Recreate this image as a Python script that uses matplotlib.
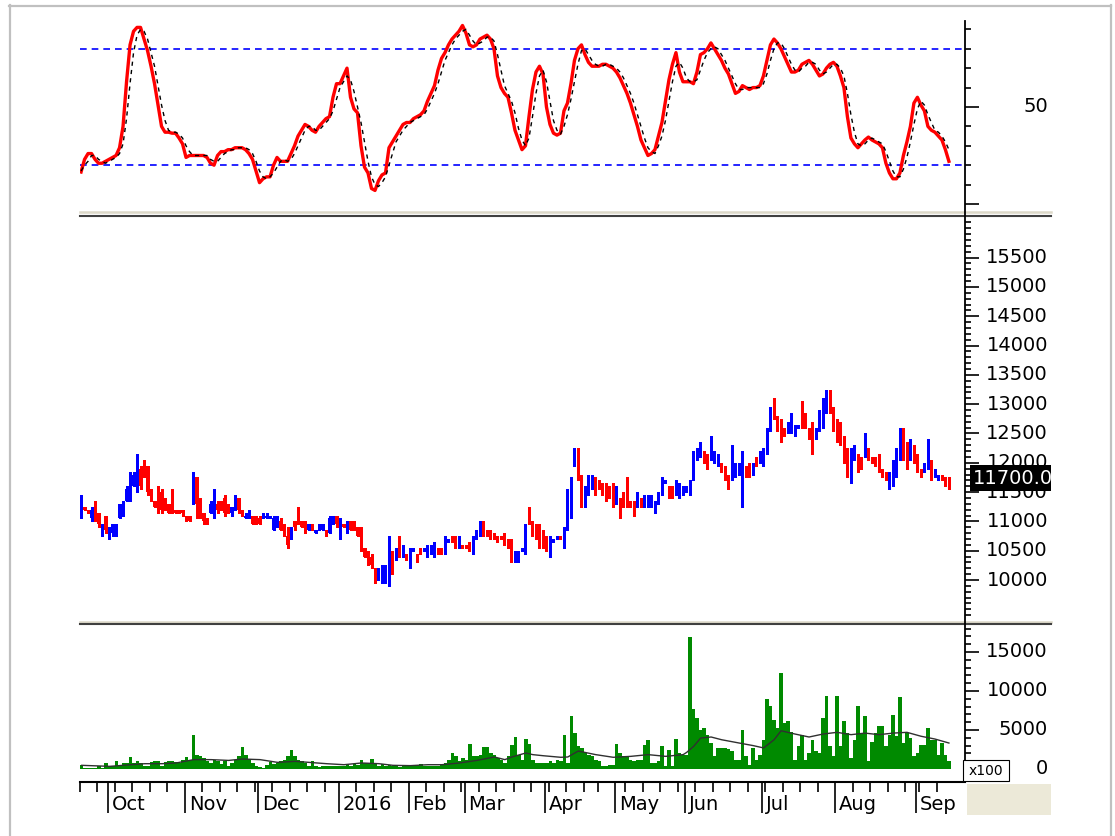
import numpy as np
import pandas as pd
import matplotlib
matplotlib.use("Agg")
import matplotlib.pyplot as plt
import matplotlib.transforms as mtransforms
from matplotlib.lines import Line2D
from matplotlib.patches import Rectangle
from matplotlib.ticker import FixedLocator

# ---- data ----
holidays = ['2016-01-01', '2016-02-08', '2016-02-09', '2016-02-10', '2016-02-11',
            '2016-02-12', '2016-04-18', '2016-05-02', '2016-05-03', '2016-09-02']
month_labels = ['Oct', 'Nov', 'Dec', '2016', 'Feb', 'Mar', 'Apr', 'May', 'Jun', 'Jul', 'Aug', 'Sep']

opens = [
    11300, 11250, 11200, 11050, 11350, 11150, 10750, 11100,
    10750, 10800, 10800, 11050, 11100, 11350, 11350, 11600, 11550, 11900, 12000, 11950, 11550, 11350, 11600, 11500, 11400, 11300, 11500, 11200, 11200, 11200,
    11100, 11100, 11450, 11750, 11400, 11150, 11050, 11150, 11100, 11300, 11350, 11400, 11300, 11150, 11200, 11400, 11200, 11050, 11100, 11100, 11100,
    11050, 11050, 11050, 11050, 10850, 10900, 11000, 10950, 10750, 10700, 11000, 11150, 11000, 10950, 10850, 10950, 10800, 10850, 10850, 10850, 10800, 10950, 11100,
    10750, 10950, 10850, 11000, 10950, 10900, 10850, 10550, 10500, 10400, 10200, 10000, 9950, 10000, 9950, 10450, 10350, 10700, 10400, 10450,
    10200, 10500, 10450, 10550, 10500, 10450, 10450, 10450, 10550, 10550, 10450, 10650, 10700, 10700, 10550, 10600,
    10600, 10650, 10450, 10700, 10750, 11000, 10850, 10850, 10800, 10750, 10750, 10750, 10700, 10650, 10300, 10300, 10500, 10500, 11200, 11000, 10950, 10900, 10800,
    10700, 10450, 10650, 10700, 10750, 10600, 10850, 11100, 12050, 12200, 11750, 11300, 11500, 11600, 11750, 11700, 11650, 11600, 11550, 11550,
    11300, 11400, 11450, 11350, 11350, 11300, 11250, 11350, 11250, 11300, 11250, 11200, 11300, 11450, 11650, 11600, 11550, 11450, 11450, 11450,
    11500, 11500, 11700, 12050, 12100, 12200, 12100, 12050, 12000, 11950, 12000, 11950, 11750, 11750, 11800, 11800, 11850, 11950, 11950, 11800, 12100, 12000,
    11950, 12150, 12550, 13100, 12750, 12700, 12600, 12500, 12500, 12450, 12600, 12700, 12800, 12600, 12650, 12400, 12550, 12650, 12850, 13200, 12900,
    12700, 12600, 12400, 12200, 11750, 12050, 12100, 12100, 12100, 12250, 12100, 12100, 12100, 11900, 11850, 11550, 11650, 11800, 12100, 12500, 12300, 12050, 12250,
    12100, 11900, 11850, 11950, 12000, 11750, 11700, 11750, 11750, 11750,
]
highs = [
    11450, 11250, 11200, 11250, 11350, 11150, 10950, 11100,
    10900, 10950, 10950, 11300, 11350, 11600, 11850, 11850, 12150, 11950, 12050, 11950, 11550, 11350, 11600, 11550, 11400, 11300, 11550, 11200, 11200, 11200,
    11100, 11100, 11850, 11750, 11400, 11150, 11050, 11350, 11550, 11350, 11350, 11450, 11300, 11250, 11450, 11400, 11200, 11150, 11200, 11100, 11100,
    11100, 11150, 11150, 11100, 11100, 11100, 11050, 10950, 10900, 10900, 11000, 11250, 11000, 11000, 10950, 10950, 10850, 10950, 10950, 10850, 11100, 11100, 11100,
    11050, 10950, 11000, 11000, 11000, 10900, 10900, 10550, 10500, 10450, 10200, 10200, 10250, 10250, 10750, 10500, 10550, 10750, 10600, 10450,
    10550, 10550, 10450, 10550, 10550, 10600, 10600, 10650, 10550, 10550, 10750, 10700, 10750, 10750, 10750, 10600,
    10600, 10650, 10750, 10850, 11000, 11000, 10850, 10850, 10800, 10750, 10750, 10800, 10700, 10700, 10500, 10500, 10550, 10950, 11250, 11000, 10950, 10950, 10850,
    10750, 10750, 10700, 10750, 10750, 10900, 11550, 11750, 12250, 12250, 11800, 11600, 11800, 11800, 11750, 11700, 11650, 11650, 11600, 11650,
    11600, 11400, 11500, 11750, 11350, 11350, 11500, 11400, 11450, 11450, 11450, 11350, 11500, 11750, 11700, 11600, 11600, 11700, 11650, 11600,
    11600, 11700, 12200, 12250, 12350, 12200, 12150, 12450, 12200, 12150, 12000, 11950, 11800, 12300, 12000, 12000, 12200, 11950, 12000, 12000, 12100, 12200,
    12250, 12600, 12950, 13100, 12800, 12750, 12600, 12700, 12850, 12650, 12650, 13050, 12850, 12600, 12700, 12600, 12900, 13100, 13250, 13250, 12950,
    12750, 12700, 12450, 12250, 12250, 12300, 12150, 12100, 12500, 12250, 12100, 12100, 12150, 11900, 11850, 11850, 12050, 12250, 12600, 12600, 12350, 12400, 12300,
    12150, 11900, 12000, 12400, 12050, 11900, 11800, 11800, 11750, 11750,
]
lows = [
    11050, 11200, 11150, 11000, 11000, 10900, 10750, 10800,
    10700, 10750, 10750, 11050, 11100, 11350, 11350, 11600, 11500, 11550, 11750, 11450, 11350, 11250, 11150, 11150, 11200, 11150, 11150, 11150, 11150, 11100,
    11000, 11000, 11300, 11050, 11050, 10950, 10950, 11150, 11050, 11150, 11200, 11100, 11150, 11100, 11200, 11150, 11100, 11050, 11050, 10950, 10950,
    10950, 11050, 11050, 11050, 10850, 10900, 10850, 10750, 10550, 10700, 10850, 10950, 10900, 10800, 10850, 10850, 10800, 10850, 10850, 10750, 10800, 10950, 10900,
    10700, 10900, 10800, 10850, 10850, 10750, 10500, 10400, 10250, 10200, 9950, 10000, 9950, 9950, 9900, 10100, 10350, 10400, 10400, 10350,
    10200, 10500, 10300, 10450, 10500, 10400, 10450, 10400, 10450, 10450, 10450, 10650, 10650, 10550, 10550, 10550,
    10550, 10500, 10450, 10700, 10750, 10750, 10750, 10700, 10700, 10650, 10700, 10600, 10550, 10300, 10300, 10300, 10500, 10450, 10950, 10750, 10700, 10550, 10550,
    10500, 10400, 10650, 10700, 10700, 10550, 10850, 11050, 11950, 11700, 11250, 11250, 11450, 11550, 11450, 11550, 11450, 11350, 11400, 11250,
    11300, 11050, 11250, 11250, 11250, 11100, 11250, 11250, 11250, 11250, 11250, 11150, 11300, 11450, 11650, 11400, 11400, 11450, 11400, 11450,
    11500, 11450, 11700, 12050, 12100, 12000, 11900, 12050, 12000, 11950, 11850, 11700, 11550, 11700, 11750, 11800, 11250, 11750, 11750, 11800, 11950, 12000,
    11950, 12150, 12550, 12750, 12550, 12350, 12450, 12500, 12500, 12450, 12600, 12600, 12600, 12400, 12150, 12400, 12550, 12600, 12850, 12850, 12550,
    12350, 12300, 12000, 11750, 11650, 12050, 11850, 11900, 12100, 12050, 12000, 11950, 11850, 11750, 11700, 11550, 11600, 11750, 12050, 12050, 11900, 12050, 12000,
    11850, 11750, 11850, 11900, 11700, 11750, 11700, 11700, 11600, 11550,
]
closes = [
    11400, 11200, 11150, 11200, 11100, 10950, 10950, 10850,
    10900, 10950, 10900, 11300, 11300, 11550, 11800, 11800, 12100, 11600, 11800, 11500, 11350, 11250, 11200, 11200, 11200, 11150, 11200, 11150, 11150, 11150,
    11050, 11000, 11550, 11300, 11100, 11000, 10950, 11300, 11300, 11200, 11200, 11150, 11150, 11250, 11350, 11200, 11150, 11100, 11150, 10950, 11000,
    10950, 11150, 11100, 11100, 11050, 11050, 10850, 10800, 10600, 10850, 10900, 11000, 10900, 10850, 10950, 10850, 10850, 10950, 10950, 10750, 11050, 11100, 10950,
    11000, 10900, 10950, 10850, 10850, 10750, 10550, 10400, 10300, 10250, 9950, 10150, 10200, 10200, 10650, 10100, 10500, 10450, 10600, 10350,
    10550, 10550, 10350, 10450, 10550, 10550, 10600, 10600, 10450, 10500, 10700, 10700, 10650, 10600, 10700, 10550,
    10550, 10500, 10700, 10850, 11000, 10800, 10750, 10700, 10700, 10650, 10700, 10650, 10550, 10350, 10500, 10450, 10550, 10900, 10950, 10800, 10750, 10600, 10600,
    10550, 10700, 10700, 10750, 10700, 10850, 11500, 11700, 12150, 11800, 11350, 11550, 11750, 11750, 11500, 11550, 11500, 11400, 11450, 11300,
    11550, 11100, 11300, 11300, 11250, 11150, 11450, 11250, 11400, 11400, 11400, 11350, 11500, 11700, 11700, 11450, 11400, 11650, 11600, 11550,
    11550, 11700, 12150, 12200, 12300, 12050, 11950, 12250, 12150, 12100, 11850, 11750, 11600, 11950, 11950, 11950, 12000, 11800, 11800, 11950, 11950, 12200,
    12200, 12550, 12900, 12800, 12600, 12450, 12450, 12650, 12600, 12650, 12650, 12650, 12650, 12450, 12500, 12550, 12850, 13000, 13200, 12900, 12650,
    12400, 12350, 12050, 11800, 12000, 12250, 11900, 11950, 12350, 12100, 12000, 11950, 11900, 11800, 11700, 11800, 12000, 12200, 12450, 12100, 11950, 12300, 12050,
    11900, 11800, 11950, 12000, 11750, 11850, 11800, 11700, 11650, 11700,
]
volume = [  # x100
    470, 130, 130, 130, 130, 340, 130, 770,
    340, 340, 980, 340, 770, 770, 1500, 770, 1070, 770, 340, 430, 850, 980, 980, 340, 850, 980, 980, 850, 770, 1200,
    1540, 1200, 4400, 1840, 1700, 1400, 980, 770, 1200, 980, 680, 980, 430, 770, 1200, 1620, 2820, 1840, 1280, 770, 340,
    260, 130, 550, 850, 680, 770, 980, 1200, 1620, 2400, 1620, 1200, 980, 770, 340, 980, 340, 260, 340, 430, 430, 340, 430,
    340, 430, 680, 430, 680, 550, 1200, 770, 770, 1280, 770, 340, 680, 430, 550, 340, 340, 260, 340, 340,
    430, 340, 550, 680, 430, 340, 340, 430, 340, 680, 770, 1200, 2050, 1620, 980, 1400,
    1200, 3200, 1620, 1620, 1840, 2820, 2820, 2050, 1840, 1400, 1200, 770, 1620, 3100, 4100, 1840, 1200, 3900, 3250, 1200, 770, 770, 770,
    770, 980, 770, 1200, 980, 4300, 770, 6750, 4600, 3000, 2700, 2050, 1840, 1620, 1200, 980, 430, 430, 550, 550,
    3200, 2050, 1620, 1620, 1200, 980, 1200, 1200, 3100, 3670, 770, 770, 980, 3000, 430, 2400, 340, 3900, 2050, 1840,
    1840, 16900, 7700, 6500, 5000, 5250, 4400, 3300, 1620, 2700, 2700, 2700, 2500, 2260, 1200, 1200, 5000, 1620, 550, 2700, 1200, 1840,
    3670, 9000, 8030, 6300, 5250, 12300, 5900, 6100, 4800, 1200, 2900, 4400, 1200, 2050, 3750, 2260, 2050, 6500, 9400, 2900, 1620,
    9400, 2900, 6100, 4600, 1400, 3750, 8100, 4600, 6750, 980, 3500, 4600, 5550, 5550, 2900, 4400, 6950, 4200, 9200, 3300, 4600, 4000, 1620,
    2050, 3100, 3100, 5250, 3750, 3750, 1840, 3300, 1840, 980,
]
# volume average line, read at a few days
ma_days = [0, 8, 18, 23, 27, 32, 37, 42, 46, 51, 56, 61, 65, 70, 75, 80, 85, 89, 94, 99,
           103, 108, 113, 118, 121, 123, 127, 129, 132, 137, 139, 142, 147, 152, 157, 162,
           167, 172, 173, 175, 177, 180, 183, 188, 192, 195, 198, 200, 204, 208, 212, 216,
           220, 224, 228, 232, 236, 240, 244, 248]
ma_vol = [470, 340, 680, 680, 770, 1200, 1200, 1100, 1280, 1200, 850, 980, 850, 680, 550, 770,
          680, 470, 430, 550, 550, 770, 1100, 1540, 1200, 1540, 2050, 1840, 1700, 1500, 1540,
          2300, 1840, 1500, 1620, 1840, 1620, 1840, 2130, 2900, 3970, 4100, 3750, 3330, 3000,
          2700, 3750, 4900, 4480, 4100, 4480, 4700, 4400, 4600, 4400, 4600, 4700, 4200, 3840, 3330]
stoch_k = [
    16.5, 23, 26, 26, 23, 21, 21, 22,
    23, 24, 25, 29, 40, 63, 82, 89, 91, 91, 85, 79, 71, 62, 51, 40, 37, 37, 36.5, 36.5, 34, 31,
    24, 25, 25, 25, 25, 25, 24, 21, 20, 25, 27, 27, 28, 28, 29, 29, 29, 28, 26, 23, 17,
    11, 13, 14, 14, 20, 24, 22, 22, 22, 26, 30, 35, 38, 41, 40, 38, 37, 40, 42, 44, 45, 55, 62,
    62, 66, 70, 55, 49, 47, 30, 19, 16, 8, 7, 12, 15, 16, 29, 32, 35, 38, 41, 42,
    42, 44, 45, 46, 48, 53, 57, 61, 69, 75, 78, 82, 85, 87, 89, 92,
    88, 82, 81, 82, 85, 86, 87, 85, 80, 66, 60, 57, 55, 47, 38, 33, 28, 30, 45, 59, 68, 71, 67,
    50, 41, 36.5, 35.5, 36.5, 48, 52, 62, 74, 80, 82, 77, 73, 71, 71, 71, 72, 72, 71, 70,
    68, 65, 61, 57, 52, 46, 40, 33, 29, 25, 26, 28, 35, 42, 53, 64, 72, 78, 68, 63,
    63, 63, 62, 68, 77, 78, 80, 83, 80, 77, 74, 70, 67, 62, 57, 58, 61, 60, 59, 60, 60, 61,
    66, 74, 82, 85, 83, 80, 76, 72, 68, 68, 69, 72, 73, 74, 72, 69, 66, 67, 70, 72, 73,
    71, 66, 60, 45, 34, 31, 29, 31, 33, 34.5, 33, 32, 31, 29, 21, 16, 13, 13, 16, 25, 32, 40, 52,
    55, 51, 48, 40, 38, 37, 35, 33, 28, 22,
]
stoch_d = [
    17, 20, 22, 25, 25, 23, 22, 21,
    22, 23, 24, 26, 31, 44, 62, 78, 87, 90, 89, 85, 78, 71, 61, 51, 43, 38, 37, 37, 36, 34,
    30, 27, 25, 25, 25, 25, 25, 23, 22, 22, 24, 26, 27, 28, 28, 29, 29, 29, 28, 26, 22,
    17, 14, 13, 14, 16, 19, 22, 23, 22, 23, 26, 30, 34, 38, 40, 40, 38, 38, 40, 42, 44, 48, 54,
    60, 63, 66, 64, 58, 50, 42, 32, 22, 14, 10, 9, 11, 14, 20, 26, 32, 35, 38, 40,
    42, 43, 44, 45, 46, 49, 53, 57, 62, 68, 74, 78, 82, 85, 87, 89,
    90, 87, 84, 82, 83, 84, 86, 86, 84, 77, 69, 61, 57, 53, 47, 39, 33, 30, 34, 45, 57, 66, 69,
    63, 53, 43, 38, 36, 40, 46, 54, 63, 72, 79, 80, 77, 74, 72, 71, 71, 72, 72, 71,
    70, 68, 65, 61, 57, 52, 46, 40, 34, 29, 27, 26, 30, 35, 43, 53, 63, 71, 73, 70,
    65, 63, 63, 64, 69, 74, 78, 80, 81, 80, 77, 74, 70, 66, 62, 59, 59, 60, 60, 60, 60, 60,
    62, 67, 74, 80, 83, 83, 80, 76, 72, 69, 68, 70, 71, 73, 73, 72, 69, 67, 68, 70, 72,
    72, 70, 66, 57, 46, 37, 31, 30, 31, 33, 34, 33, 32, 31, 27, 22, 17, 14, 14, 18, 24, 32, 41,
    49, 53, 51, 46, 42, 38, 37, 35, 32, 28,
]
last_price = '11700.00'

# ---- layout helpers (pixel coords of the 1115x836 picture) ----
W, H = 1115, 836
fig = plt.figure(figsize=(W / 100, H / 100), dpi=100)


def fx(px):
    return px / W


def fy(py):
    return 1 - py / H


def add_ax(y_top, y_bot):
    return fig.add_axes([fx(80), fy(y_bot), fx(965) - fx(80), (y_bot - y_top) / H])


opens, highs, lows, closes = map(np.array, (opens, highs, lows, closes))
n = len(closes)
x = np.arange(n)
dates = pd.bdate_range('2015-09-21', '2016-09-30', freq='C', holidays=holidays)[:n]
new_month = np.r_[False, dates.month[1:] != dates.month[:-1]]
new_week = np.r_[True, dates.weekday[1:] < dates.weekday[:-1]]
month_pos = x[new_month]
week_pos = x[new_week & ~new_month]

ax1 = add_ax(21, 211)
ax2 = add_ax(218, 620)
ax3 = add_ax(626, 782)
for ax in (ax1, ax2, ax3):
    ax.set_xlim(-0.3, 252.6)
    ax.yaxis.tick_right()
    ax.tick_params(axis='y', which='major', length=10, width=1.2, labelright=False)
    ax.tick_params(axis='y', which='minor', length=4.5, width=1.2)
    ax.tick_params(axis='x', which='both', bottom=False, labelbottom=False)
    for s in ax.spines.values():
        s.set_visible(False)

# stochastic panel
ax1.set_ylim(-3.6, 94.3)
ax1.axhline(80, color='#0000ff', lw=1.2, ls=(0, (4, 3)))
ax1.axhline(20, color='#0000ff', lw=1.2, ls=(0, (4, 3)))
ax1.plot(x, stoch_k, color='#ff0000', lw=2.4, zorder=3)
ax1.plot(x, stoch_d, color='black', lw=1.0, ls=(0, (3, 3)), zorder=4)
ax1.yaxis.set_major_locator(FixedLocator([0, 50]))
ax1.yaxis.set_minor_locator(FixedLocator([10, 20, 30, 40, 60, 70, 80, 90]))

# price panel: thin high-low line plus a thicker open-close body
ax2.set_ylim(9318, 16176)
up = closes >= opens
cols = np.where(up, '#0000ff', '#ff0000')
ax2.vlines(x, lows, highs, colors=cols, lw=1.0, antialiased=False)
ax2.bar(x, np.maximum(np.abs(closes - opens), 30), bottom=np.minimum(opens, closes),
        width=0.75, color=cols, linewidth=0, antialiased=False)
ax2.yaxis.set_major_locator(FixedLocator(np.arange(10000, 15501, 500)))
ax2.yaxis.set_minor_locator(FixedLocator(np.arange(9400, 16200, 100)))

# volume panel
ax3.set_ylim(-1667, 18330)
ax3.bar(x, volume, width=1.0, color='#008a00', linewidth=0, antialiased=False)
ax3.plot(ma_days, ma_vol, color='#303030', lw=1.0)
ax3.yaxis.set_major_locator(FixedLocator([0, 5000, 10000, 15000]))
ax3.yaxis.set_minor_locator(FixedLocator(np.arange(0, 18001, 1000)))
ax3.spines['bottom'].set_visible(True)
ax3.spines['bottom'].set_linewidth(1.5)
ax3.set_xticks(month_pos - 0.5)
ax3.set_xticks(week_pos - 0.5, minor=True)
ax3.tick_params(axis='x', which='major', bottom=True, length=22, width=1.2)
ax3.tick_params(axis='x', which='minor', bottom=True, length=7, width=1.2)

# axis labels drawn as text, right-aligned like the original
for ax, vals in ((ax1, [50]), (ax2, range(10000, 15501, 500)), (ax3, [0, 5000, 10000, 15000])):
    tr = mtransforms.blended_transform_factory(fig.transFigure, ax.transData)
    for v in vals:
        ax.text(fx(1048), v, str(v), transform=tr, ha='right', va='center',
                fontsize=14, clip_on=False)
trx = mtransforms.blended_transform_factory(ax3.transData, fig.transFigure)
for pos, lab in zip(month_pos, month_labels):
    ax3.text(pos - 0.5 + 1.1, fy(804), lab, transform=trx, ha='left', va='center',
             fontsize=14, clip_on=False)

# separators, right axis line, frame
def fline(x0, y0, x1, y1, **kw):
    fig.add_artist(Line2D([fx(x0), fx(x1)], [fy(y0), fy(y1)], transform=fig.transFigure, **kw))


for yl, yd in ((212, 216), (621.8, 624.2)):
    fline(80, yl, 1051, yl, color='#dcd8c8', lw=1.8, zorder=5)
    fline(80, yd, 1051, yd, color='#404040', lw=1.5, zorder=5)
fline(965, 21, 965, 782, color='black', lw=1.3, zorder=6)
fline(9, 5.5, 1111, 5.5, color='#c0c0c0', lw=1.6)
fline(9.5, 5, 9.5, 836, color='#c0c0c0', lw=1.6)
fline(1111, 5, 1111, 836, color='#c0c0c0', lw=1.6)

fig.add_artist(Rectangle((fx(967), fy(815)), fx(84), 31 / H, transform=fig.transFigure,
                         facecolor='#ece9d8', edgecolor='none', zorder=5))
fig.add_artist(Rectangle((fx(963), fy(781)), fx(46), 21 / H, transform=fig.transFigure,
                         facecolor='white', edgecolor='black', lw=0.8, zorder=7))
fig.text(fx(986), fy(771), 'x100', ha='center', va='center', fontsize=10, zorder=8)

# last-price tag, cut off at the right edge like the original
fig.add_artist(Rectangle((fx(970), fy(491)), fx(81), 26 / H, transform=fig.transFigure,
                         facecolor='black', edgecolor='none', zorder=8))
fig.text(fx(973), fy(478), last_price, ha='left', va='center', fontsize=14,
         color='white', zorder=9)
fig.add_artist(Rectangle((fx(1051), fy(497)), fx(58), 38 / H, transform=fig.transFigure,
                         facecolor='white', edgecolor='none', zorder=10))

fig.savefig('out.png', dpi=100, facecolor='white')
